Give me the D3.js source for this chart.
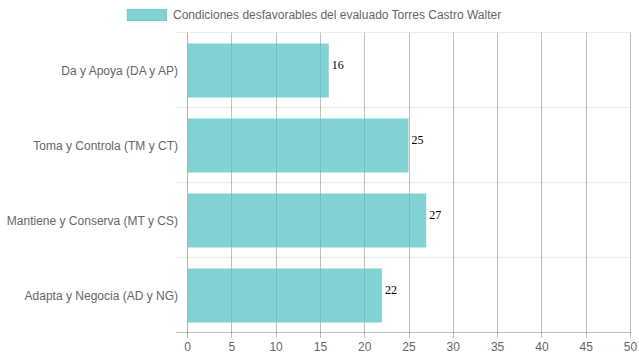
<!DOCTYPE html>
<html><head><meta charset="utf-8">
<script src="https://cdn.jsdelivr.net/npm/d3@7"></script>
<style>body{margin:0;background:#fff}svg{display:block}</style>
</head><body>
<svg id="c" width="639" height="360"></svg>
<script>
const categories = ["Da y Apoya (DA y AP)", "Toma y Controla (TM y CT)", "Mantiene y Conserva (MT y CS)", "Adapta y Negocia (AD y NG)"];
const values = [16, 25, 27, 22];
const seriesName = "Condiciones desfavorables del evaluado Torres Castro Walter";
const xTicks = [0, 5, 10, 15, 20, 25, 30, 35, 40, 45, 50];

(function () {
const svg = d3.select("#c");
const pL = 187, pR = 630, pT = 33, pB = 333;
const font = "Liberation Sans, Arial, Helvetica, sans-serif";

const x = d3.scaleLinear().domain([0, 50]).range([pL, pR]);
const yBand = d3.scaleBand().domain(categories).range([pT, pB]);
const yBar = d3.scaleBand().domain(categories).range([pT, pB]).paddingInner(0.28).paddingOuter(0.14);

// horizontal category grid lines
const hLines = [pT].concat(categories.map(c => yBand(c) + yBand.bandwidth()));
svg.append("g").selectAll("line").data(hLines.slice(0, -1)).join("line")
  .attr("x1", pL - 11).attr("x2", pR)
  .attr("y1", d => Math.round(d) - 0.5).attr("y2", d => Math.round(d) - 0.5)
  .attr("stroke", "rgba(0,0,0,0.07)").attr("stroke-width", 1);

// vertical grid lines
svg.append("g").selectAll("line").data(xTicks).join("line")
  .attr("x1", d => Math.round(x(d)) + 0.5).attr("x2", d => Math.round(x(d)) + 0.5)
  .attr("y1", pT - 0.5).attr("y2", pB + 5)
  .attr("stroke", d => d === 0 ? "rgba(0,0,0,0.3)" : "rgba(0,0,0,0.25)").attr("stroke-width", 1);

// bottom axis line
svg.append("line").attr("x1", pL - 11).attr("x2", pR + 1)
  .attr("y1", pB - 0.5).attr("y2", pB - 0.5)
  .attr("stroke", "rgba(0,0,0,0.25)");

// bars
svg.append("g").selectAll("rect").data(values).join("rect")
  .attr("x", x(0) + 1)
  .attr("y", (d, i) => yBar(categories[i]))
  .attr("width", d => x(d) - x(0) - 1)
  .attr("height", yBar.bandwidth())
  .attr("fill", "rgba(75,192,192,0.7)");

// value labels
svg.append("g").selectAll("text").data(values).join("text")
  .attr("x", d => x(d) + 3)
  .attr("y", (d, i) => yBand(categories[i]) + yBand.bandwidth() / 2 - 2)
  .attr("font-family", "Liberation Serif, Times New Roman, serif")
  .attr("font-size", 12).attr("fill", "#000")
  .text(d => d);

// category labels
svg.append("g").selectAll("text").data(categories).join("text")
  .attr("x", pL - 9)
  .attr("y", d => yBand(d) + yBand.bandwidth() / 2)
  .attr("dy", "0.35em")
  .attr("text-anchor", "end")
  .attr("font-family", font).attr("font-size", 12).attr("fill", "#666")
  .text(d => d);

// x tick labels
svg.append("g").selectAll("text").data(xTicks).join("text")
  .attr("x", d => x(d) + 0.5)
  .attr("y", 347).attr("dy", "0.35em")
  .attr("text-anchor", "middle")
  .attr("font-family", font).attr("font-size", 12).attr("fill", "#666")
  .text(d => d);

// legend
svg.append("rect").attr("x", 127).attr("y", 9).attr("width", 40).attr("height", 12)
  .attr("fill", "rgba(75,192,192,0.7)").attr("stroke", "rgba(0,0,0,0.08)");
svg.append("text").attr("x", 173).attr("y", 15).attr("dy", "0.35em")
  .attr("font-family", font).attr("font-size", 12).attr("fill", "#666")
  .text(seriesName);
})();
</script>
</body></html>
